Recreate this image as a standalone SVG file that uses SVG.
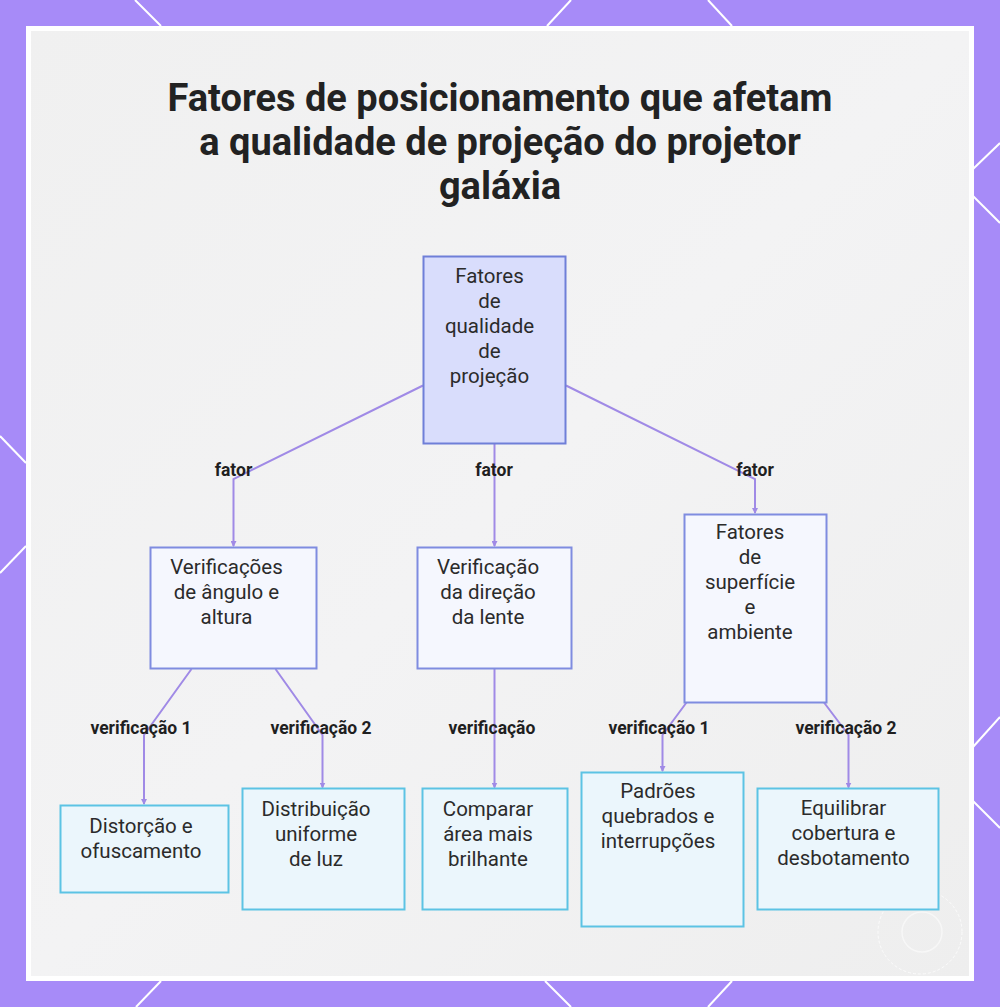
<svg xmlns="http://www.w3.org/2000/svg" width="1000" height="1007" viewBox="0 0 1000 1007">
  <defs>
    <linearGradient id="bg" x1="0" y1="0" x2="1" y2="1">
      <stop offset="0" stop-color="#f0f0f0"/>
      <stop offset="0.5" stop-color="#f3f3f4"/>
      <stop offset="1" stop-color="#eeeeee"/>
    </linearGradient>
    <marker id="arr" viewBox="0 0 6 6" refX="5" refY="3" markerWidth="3" markerHeight="3" orient="auto">
      <path d="M0,0 L6,3 L0,6 z" fill="#a08ae6"/>
    </marker>
    <style>
      .title { font-family: Roboto, "Liberation Sans", sans-serif; font-weight: 700; font-size: 38px; fill: #222222; text-anchor: middle; }
      .ntext { font-family: Roboto, "Liberation Sans", sans-serif; font-size: 20.5px; fill: #2b2b2b; text-anchor: middle; }
      .lbl { font-family: Roboto, "Liberation Sans", sans-serif; font-weight: 700; font-size: 17.5px; fill: #1f1f1f; text-anchor: middle; }
      .root { fill: #d9ddfc; stroke: #6f7fd8; stroke-width: 2; }
      .mid { fill: #f5f7fe; stroke: #7f8ce0; stroke-width: 2; }
      .leaf { fill: #ebf6fc; stroke: #5cc3e4; stroke-width: 2; }
      .edge { fill: none; stroke: #a08ae6; stroke-width: 2; }
      .deco { stroke: #ffffff; stroke-width: 2; fill: none; }
    </style>
  </defs>

  <!-- background -->
  <rect x="0" y="0" width="1000" height="1007" fill="#a78bf8"/>
  <g class="deco">
    <line x1="135" y1="0" x2="161" y2="26"/>
    <line x1="571" y1="0" x2="547" y2="26"/>
    <line x1="708" y1="0" x2="732" y2="26"/>
    <line x1="1000" y1="143" x2="973" y2="169"/>
    <line x1="973" y1="196" x2="1000" y2="223"/>
    <line x1="1000" y1="717" x2="973" y2="747"/>
    <line x1="973" y1="801" x2="1000" y2="828"/>
    <line x1="0" y1="436" x2="26" y2="463"/>
    <line x1="0" y1="573" x2="26" y2="546"/>
    <line x1="161" y1="981" x2="136" y2="1007"/>
    <line x1="545" y1="981" x2="571" y2="1007"/>
    <line x1="732" y1="981" x2="708" y2="1007"/>
  </g>
  <rect x="28.500" y="28.500" width="943" height="950" fill="url(#bg)" stroke="#ffffff" stroke-width="5"/>
  <circle cx="920" cy="932" r="42" fill="none" stroke="#ffffff" stroke-opacity="0.7" stroke-width="1" stroke-dasharray="3 2"/>
  <circle cx="922" cy="932" r="20" fill="none" stroke="#ffffff" stroke-opacity="0.5" stroke-width="1.5"/>

  <!-- title -->
  <text class="title" x="500" y="111">Fatores de posicionamento que afetam</text>
  <text class="title" x="500" y="155">a qualidade de projeção do projetor</text>
  <text class="title" x="500" y="199">galáxia</text>

  <!-- connectors -->
  <g id="connectors">
    <polyline class="edge" points="423,385.5 233.5,479 233.5,546" marker-end="url(#arr)"/>
    <polyline class="edge" points="494.5,444 494.5,546" marker-end="url(#arr)"/>
    <polyline class="edge" points="566,385.5 755,479 755,513" marker-end="url(#arr)"/>
    <polyline class="edge" points="191.5,669 144,735 144,804" marker-end="url(#arr)"/>
    <polyline class="edge" points="275.5,669 322.5,735 322.5,787.500" marker-end="url(#arr)"/>
    <polyline class="edge" points="494.5,669 494.5,787.500" marker-end="url(#arr)"/>
    <polyline class="edge" points="686.5,702.500 662.5,735 662.5,771" marker-end="url(#arr)"/>
    <polyline class="edge" points="824,702.500 848.5,735 848.5,787.500" marker-end="url(#arr)"/>
    <text class="lbl" x="233.5" y="476">fator</text>
    <text class="lbl" x="494" y="476">fator</text>
    <text class="lbl" x="755" y="476">fator</text>
    <text class="lbl" x="141" y="734">verificação 1</text>
    <text class="lbl" x="321" y="734">verificação 2</text>
    <text class="lbl" x="492" y="734">verificação</text>
    <text class="lbl" x="659" y="734">verificação 1</text>
    <text class="lbl" x="846" y="734">verificação 2</text>
  </g>

  <!-- nodes -->
  <g id="node-root">
    <rect class="root" x="423.5" y="256.5" width="142" height="187"/>
    <text class="ntext" x="489.5" y="283">Fatores</text>
    <text class="ntext" x="489.5" y="308">de</text>
    <text class="ntext" x="489.5" y="333">qualidade</text>
    <text class="ntext" x="489.5" y="358">de</text>
    <text class="ntext" x="489.5" y="383">projeção</text>
  </g>
  <g id="node-angulo">
    <rect class="mid" x="150.5" y="547.5" width="166" height="121"/>
    <text class="ntext" x="226.5" y="574">Verificações</text>
    <text class="ntext" x="226.5" y="599">de ângulo e</text>
    <text class="ntext" x="226.5" y="624">altura</text>
  </g>
  <g id="node-lente">
    <rect class="mid" x="417.5" y="547.5" width="154" height="121"/>
    <text class="ntext" x="488" y="574">Verificação</text>
    <text class="ntext" x="488" y="599">da direção</text>
    <text class="ntext" x="488" y="624">da lente</text>
  </g>
  <g id="node-superficie">
    <rect class="mid" x="684.5" y="514.5" width="142" height="188"/>
    <text class="ntext" x="750" y="539">Fatores</text>
    <text class="ntext" x="750" y="564">de</text>
    <text class="ntext" x="750" y="589">superfície</text>
    <text class="ntext" x="750" y="614">e</text>
    <text class="ntext" x="750" y="639">ambiente</text>
  </g>
  <g id="node-distorcao">
    <rect class="leaf" x="60.5" y="805.5" width="168" height="87"/>
    <text class="ntext" x="141" y="833">Distorção e</text>
    <text class="ntext" x="141" y="858">ofuscamento</text>
  </g>
  <g id="node-distribuicao">
    <rect class="leaf" x="242.5" y="788.5" width="162" height="121"/>
    <text class="ntext" x="316" y="816">Distribuição</text>
    <text class="ntext" x="316" y="841">uniforme</text>
    <text class="ntext" x="316" y="866">de luz</text>
  </g>
  <g id="node-comparar">
    <rect class="leaf" x="422.5" y="788.5" width="145" height="121"/>
    <text class="ntext" x="488" y="816">Comparar</text>
    <text class="ntext" x="488" y="841">área mais</text>
    <text class="ntext" x="488" y="866">brilhante</text>
  </g>
  <g id="node-padroes">
    <rect class="leaf" x="581.5" y="772.5" width="162" height="154"/>
    <text class="ntext" x="658" y="798">Padrões</text>
    <text class="ntext" x="658" y="823">quebrados e</text>
    <text class="ntext" x="658" y="848">interrupções</text>
  </g>
  <g id="node-equilibrar">
    <rect class="leaf" x="757.5" y="788.5" width="181" height="121"/>
    <text class="ntext" x="843.5" y="815">Equilibrar</text>
    <text class="ntext" x="843.5" y="840">cobertura e</text>
    <text class="ntext" x="843.5" y="865">desbotamento</text>
  </g>
</svg>
